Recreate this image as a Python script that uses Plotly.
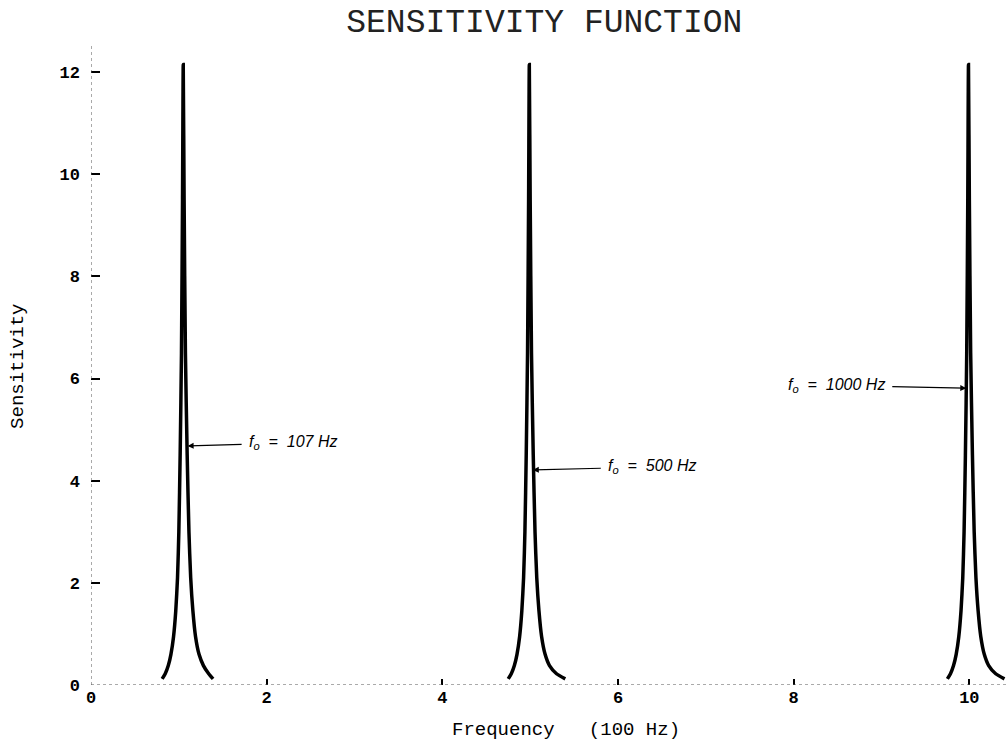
import plotly.graph_objects as go

# ---- data ----
peak1_x = [0.81, 0.845, 0.88, 0.91, 0.94, 0.965, 0.985, 1.0, 1.015, 1.03, 1.042, 1.05,
           1.06, 1.075, 1.095, 1.115, 1.135, 1.16, 1.19, 1.23, 1.28, 1.34, 1.39]
peak2_x = [4.75, 4.785, 4.82, 4.85, 4.88, 4.905, 4.925, 4.94, 4.955, 4.97, 4.982, 4.99,
           5.0, 5.015, 5.035, 5.055, 5.075, 5.10, 5.13, 5.17, 5.22, 5.30, 5.40]
peak3_x = [9.75, 9.785, 9.82, 9.85, 9.88, 9.905, 9.925, 9.94, 9.955, 9.97, 9.982, 9.99,
           10.0, 10.015, 10.035, 10.055, 10.075, 10.10, 10.13, 10.17, 10.22, 10.30, 10.40]
peak_y = [0.12, 0.22, 0.38, 0.6, 0.95, 1.45, 2.1, 3.0, 4.5, 6.5, 9.5, 12.15,
          9.5, 6.5, 4.5, 3.0, 2.1, 1.45, 0.95, 0.6, 0.38, 0.22, 0.12]

x_ticks = [0, 2, 4, 6, 8, 10]
y_ticks = [0, 2, 4, 6, 8, 10, 12]
x_range = [0, 10.44]
y_range = [0, 12.53]

labels = ["f<sub>o</sub>  =  107 Hz", "f<sub>o</sub>  =  500 Hz", "f<sub>o</sub>  =  1000 Hz"]
label_tips_x = [1.10, 5.03, 9.965]
label_tips_y = [4.68, 4.21, 5.81]

title = "SENSITIVITY FUNCTION"
x_title = "Frequency   (100 Hz)"
y_title = "Sensitivity"

fig = go.Figure()
for px_, name in [(peak1_x, "107 Hz"), (peak2_x, "500 Hz"), (peak3_x, "1000 Hz")]:
    fig.add_trace(go.Scatter(x=px_, y=peak_y, mode="lines", name=name,
                             line=dict(color="black", width=3.5, shape="spline", smoothing=0.6),
                             showlegend=False, hoverinfo="x+y"))

# dotted axis lines
fig.add_shape(type="line", xref="x", yref="y", x0=x_range[0], x1=x_range[1], y0=0, y1=0,
              line=dict(color="#555", width=1, dash="dot"))
fig.add_shape(type="line", xref="x", yref="y", x0=0, x1=0, y0=y_range[0], y1=y_range[1],
              line=dict(color="#555", width=1, dash="dot"))

offsets = [(106, -3), (120, -3), (-130, -3)]
for txt, tx, ty, (ax, ay) in zip(labels, label_tips_x, label_tips_y, offsets):
    fig.add_annotation(x=tx, y=ty, xref="x", yref="y", text="<i>" + txt + "</i>",
                       showarrow=True, arrowhead=2, arrowsize=1, arrowwidth=1.2,
                       arrowcolor="black", ax=ax, ay=ay, standoff=0, startstandoff=6,
                       font=dict(family="Liberation Sans", size=16, color="black"))

fig.add_annotation(x=0.518, y=0, xref="paper", yref="paper", yshift=-45,
                   xanchor="center", yanchor="middle",
                   text=x_title, showarrow=False,
                   font=dict(family="Liberation Mono", size=19, color="black"))
fig.add_annotation(x=0, y=0.497, xref="paper", yref="paper", xshift=-73,
                   xanchor="center", yanchor="middle",
                   text=y_title, showarrow=False, textangle=-90,
                   font=dict(family="Liberation Mono", size=19, color="black"))

fig.update_layout(
    width=1008, height=742,
    margin=dict(l=91, r=0, t=45, b=57),
    paper_bgcolor="white", plot_bgcolor="white",
    title=dict(text=title, x=0.54, xref="container", xanchor="center",
               y=1 - 20 / 742, yref="container", yanchor="middle",
               font=dict(family="Liberation Mono", size=33, color="#222")),
    xaxis=dict(range=x_range, tickvals=x_ticks, ticktext=[str(v) for v in x_ticks],
               ticks="inside", ticklen=6, tickwidth=1.5, tickcolor="black",
               showgrid=False, zeroline=False, showline=False,
               tickfont=dict(family="Liberation Mono", size=17, color="black", weight="bold")),
    yaxis=dict(range=y_range, tickvals=y_ticks, ticktext=[str(v) for v in y_ticks],
               ticks="inside", ticklen=9, tickwidth=1.5, tickcolor="black",
               showgrid=False, zeroline=False, showline=False, ticklabelstandoff=10,
               tickfont=dict(family="Liberation Mono", size=17, color="black", weight="bold")),
)

fig.write_html("out.html")
